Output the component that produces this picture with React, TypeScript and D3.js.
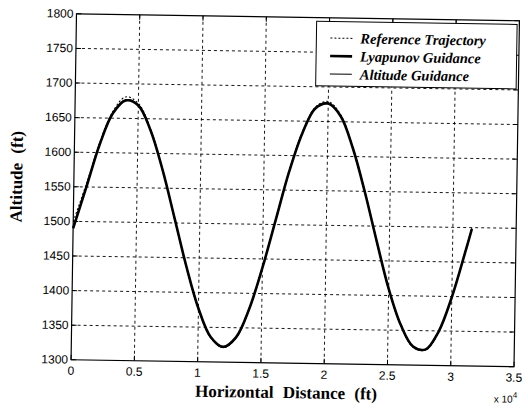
import React from "react";
import * as d3 from "d3";

// Horizontal distance (units of 1e4 ft)
const distance = [0, 0.1, 0.2, 0.3, 0.4, 0.5, 0.6, 0.7, 0.8, 0.9, 1.0, 1.1, 1.2, 1.3, 1.4, 1.5, 1.6, 1.7, 1.8, 1.9, 2.0, 2.1, 2.2, 2.3, 2.4, 2.5, 2.6, 2.7, 2.8, 2.9, 3.0, 3.1, 3.15];
const referenceTrajectory = [1500, 1555, 1615, 1660, 1681, 1672, 1635, 1577, 1507, 1436, 1376, 1335, 1321, 1335, 1376, 1437, 1508, 1578, 1635, 1671, 1679, 1660, 1613, 1550, 1478, 1409, 1357, 1326, 1322, 1348, 1399, 1465, 1500];
const lyapunovGuidance = [1490, 1550, 1612, 1657, 1676, 1669, 1633, 1576, 1507, 1437, 1377, 1336, 1322, 1336, 1377, 1437, 1507, 1577, 1633, 1669, 1676, 1658, 1612, 1549, 1478, 1410, 1358, 1327, 1323, 1349, 1399, 1464, 1498];
const altitudeGuidance = [1492, 1552, 1613, 1658, 1677, 1670, 1634, 1576, 1506, 1436, 1376, 1335, 1321, 1335, 1377, 1438, 1508, 1578, 1634, 1670, 1677, 1659, 1612, 1549, 1477, 1409, 1357, 1326, 1322, 1349, 1400, 1465, 1499];

const xTicks = [0, 0.5, 1, 1.5, 2, 2.5, 3, 3.5];
const xTickLabels = ["0", "0.5", "1", "1.5", "2", "2.5", "3", "3.5"];
const yTicks = [1300, 1350, 1400, 1450, 1500, 1550, 1600, 1650, 1700, 1750, 1800];
const legendLabels = ["Reference Trajectory", "Lyapunov Guidance", "Altitude Guidance"];

const W = 528, H = 412;
const L = 73.75, R = 516.75, T = 17.25, B = 363.25;
const CX = 295.25, CY = 190.25;

export default function App() {
  const x = d3.scaleLinear().domain([0, 3.5]).range([L, R]);
  const y = d3.scaleLinear().domain([1300, 1800]).range([B, T]);
  const mk = (vals: number[]) =>
    d3.line<number>().x((_, i) => x(distance[i])).y((v) => y(v)).curve(d3.curveCatmullRom)(vals) || "";

  const sans = "Liberation Sans, Arial, sans-serif";
  const serif = "Liberation Serif, DejaVu Serif, serif";
  const tick = 5;

  const legX = 314, legY = 21, legW = 200.5, legH = 64.5;
  const rows = [37.5, 55.5, 73.5];
  const styles = [
    { w: 1, dash: "2,2" },
    { w: 2.6, dash: "" },
    { w: 1, dash: "" },
  ];

  return (
    <svg width={W} height={H} style={{ position: "absolute", left: 0, top: 0, background: "#fff" }}>
      <rect x={0} y={0} width={W} height={H} fill="#fff" />
      <g transform={`rotate(0.9, ${CX}, ${CY})`}>
        {xTicks.slice(1, -1).map((t) => (
          <line key={"gx" + t} x1={x(t)} x2={x(t)} y1={T} y2={B} stroke="#000" strokeWidth={0.9} strokeDasharray="3,3" />
        ))}
        {yTicks.slice(1, -1).map((t) => (
          <line key={"gy" + t} x1={L} x2={R} y1={y(t)} y2={y(t)} stroke="#000" strokeWidth={0.9} strokeDasharray="3,3" />
        ))}
        {xTicks.map((t) => (
          <g key={"tx" + t}>
            <line x1={x(t)} x2={x(t)} y1={B} y2={B - tick} stroke="#000" strokeWidth={1} />
            <line x1={x(t)} x2={x(t)} y1={T} y2={T + tick} stroke="#000" strokeWidth={1} />
          </g>
        ))}
        {yTicks.map((t) => (
          <g key={"ty" + t}>
            <line x1={L} x2={L + tick} y1={y(t)} y2={y(t)} stroke="#000" strokeWidth={1} />
            <line x1={R} x2={R - tick} y1={y(t)} y2={y(t)} stroke="#000" strokeWidth={1} />
          </g>
        ))}
        <path d={mk(referenceTrajectory)} fill="none" stroke="#000" strokeWidth={1} strokeDasharray="2,2" />
        <path d={mk(lyapunovGuidance)} fill="none" stroke="#000" strokeWidth={2.6} />
        <path d={mk(altitudeGuidance)} fill="none" stroke="#000" strokeWidth={1} />
        <rect x={L} y={T} width={R - L} height={B - T} fill="none" stroke="#000" strokeWidth={1.2} />
        {xTicks.map((t, i) => (
          <text key={"lx" + t} x={x(t)} y={B + 15} textAnchor="middle" style={{ fontFamily: sans }} fontSize={12} fill="#000">
            {xTickLabels[i]}
          </text>
        ))}
        {yTicks.map((t) => (
          <text key={"ly" + t} x={L - 3} y={y(t) + 4} textAnchor="end" style={{ fontFamily: sans }} fontSize={12} fill="#000">
            {t}
          </text>
        ))}
        <text x={(L + R) / 2 - 6} y={B + 35} textAnchor="middle" style={{ fontFamily: serif }} fontWeight="bold" fontSize={17} wordSpacing={5} fill="#000">
          Horizontal Distance (ft)
        </text>
        <text x={R - 8} y={B + 36} textAnchor="middle" style={{ fontFamily: sans }} fontSize={10} fill="#000">
          x 10
          <tspan fontSize={8} dy={-5}>4</tspan>
        </text>
        <text transform={`translate(22, 181) rotate(-90)`} textAnchor="middle" style={{ fontFamily: serif }} fontWeight="bold" fontSize={17} wordSpacing={5} fill="#000">
          Altitude (ft)
        </text>
        <rect x={legX} y={legY} width={legW} height={legH} fill="#fff" stroke="#000" strokeWidth={1} />
        {legendLabels.map((lab, i) => (
          <g key={lab}>
            <line x1={328} x2={350} y1={rows[i]} y2={rows[i]} stroke="#000" strokeWidth={styles[i].w} strokeDasharray={styles[i].dash} />
            <text x={358} y={rows[i] + 5} style={{ fontFamily: serif }} fontStyle="italic" fontWeight="bold" fontSize={14.5} fill="#000">
              {lab}
            </text>
          </g>
        ))}
      </g>
    </svg>
  );
}
